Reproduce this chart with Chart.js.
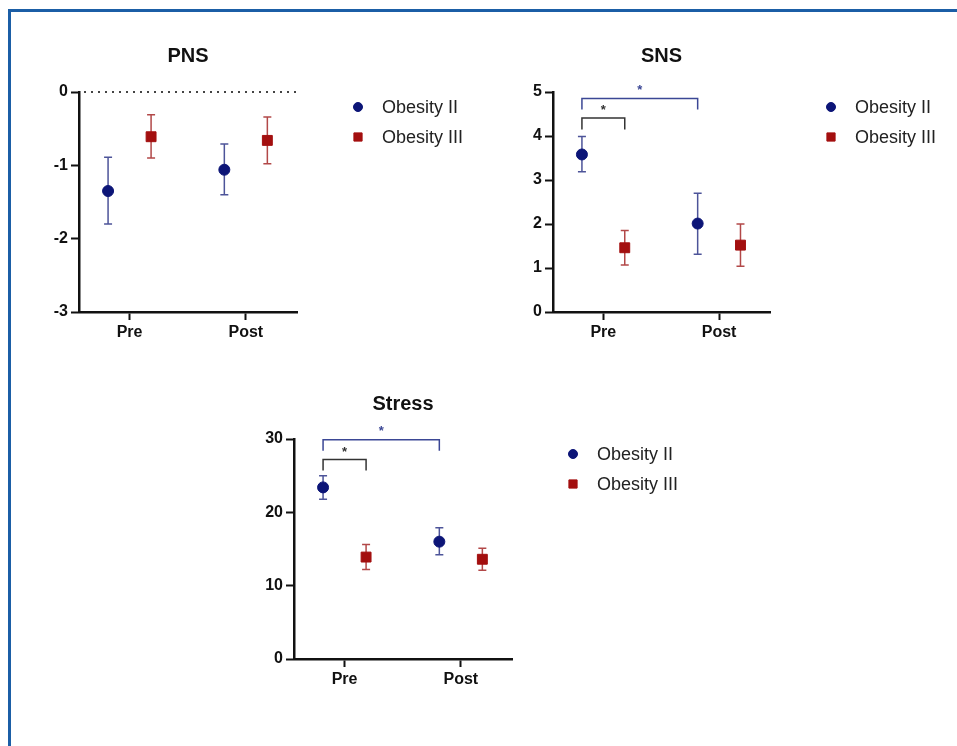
<!DOCTYPE html>
<html>
<head>
<meta charset="utf-8">
<script src="https://cdn.jsdelivr.net/npm/chart.js@4.4.1/dist/chart.umd.min.js"></script>
<style>
  html, body { margin: 0; padding: 0; background: #fff; overflow: hidden; }
  body { width: 957px; height: 746px; position: relative; }
  .frame { position: absolute; left: 8px; top: 9px; width: 960px; height: 760px; border: 3px solid #1b5ea6; box-sizing: border-box; }
  .panel { position: absolute; }
</style>
</head>
<body>
<div class="frame"></div>
<div class="panel" style="left:0;top:20px;width:478px;height:340px"><canvas id="c-pns"></canvas></div>
<div class="panel" style="left:478px;top:20px;width:479px;height:340px"><canvas id="c-sns"></canvas></div>
<div class="panel" style="left:220px;top:368px;width:480px;height:340px"><canvas id="c-stress"></canvas></div>
<script>
/* values: means and error-bar ends per time point */
var categories = ['Pre', 'Post'];
var groups = ['Obesity II', 'Obesity III'];

var pnsTicks = [-3, -2, -1, 0];
var pnsOb2Mean = [-1.35, -1.06];
var pnsOb2Low  = [-1.80, -1.40];
var pnsOb2High = [-0.89, -0.71];
var pnsOb3Mean = [-0.61, -0.66];
var pnsOb3Low  = [-0.90, -0.98];
var pnsOb3High = [-0.31, -0.34];

var snsTicks = [0, 1, 2, 3, 4, 5];
var snsOb2Mean = [3.58, 2.01];
var snsOb2Low  = [3.19, 1.31];
var snsOb2High = [3.99, 2.70];
var snsOb3Mean = [1.46, 1.52];
var snsOb3Low  = [1.07, 1.04];
var snsOb3High = [1.85, 2.00];

var stressTicks = [0, 10, 20, 30];
var stressOb2Mean = [23.4, 16.0];
var stressOb2Low  = [21.8, 14.2];
var stressOb2High = [25.0, 17.9];
var stressOb3Mean = [13.9, 13.6];
var stressOb3Low  = [12.2, 12.1];
var stressOb3High = [15.6, 15.1];

/* significance brackets: [cat, group] -> [cat, group], bar level, leg end, star level */
var snsBrackets = [
  { from: [0, 0], to: [0, 1], bar: 4.41, leg: 4.15, star: 4.68, color: '#333' },
  { from: [0, 0], to: [1, 0], bar: 4.85, leg: 4.60, star: 5.13, color: '#3b4795' }
];
var stressBrackets = [
  { from: [0, 0], to: [0, 1], bar: 27.2, leg: 25.7, star: 28.8, color: '#333' },
  { from: [0, 0], to: [1, 0], bar: 29.9, leg: 28.4, star: 31.6, color: '#3b4795' }
];

var DODGE = 0.185;
var OB2_COLOR = '#0c1577';
var OB3_COLOR = '#a30f0f';
var OB2_BAR = '#4d5499';
var OB3_BAR = '#b24848';
var INK = '#111';

Chart.defaults.font.family = "'Liberation Sans', Arial, Helvetica, sans-serif";
Chart.defaults.color = INK;

function xOf(cat, grp) {
  return cat + 1 + (grp === 0 ? -DODGE : DODGE);
}

function points(grp, means) {
  return means.map(function (m, i) { return { x: xOf(i, grp), y: m }; });
}

/* error bars, zero line and brackets, all placed through the chart's scales */
var markup = {
  id: 'markup',
  beforeDatasetsDraw: function (chart, args, opts) {
    var ctx = chart.ctx, xs = chart.scales.x, ys = chart.scales.y;
    ctx.save();
    if (opts.zeroLine) {
      var zy = ys.getPixelForValue(0);
      ctx.strokeStyle = '#444';
      ctx.lineWidth = 2;
      ctx.setLineDash([2, 5]);
      ctx.beginPath();
      ctx.moveTo(chart.chartArea.left + 5, zy);
      ctx.lineTo(chart.chartArea.right, zy);
      ctx.stroke();
      ctx.setLineDash([]);
    }
    chart.data.datasets.forEach(function (ds) {
      ctx.strokeStyle = ds.barColor;
      ctx.lineWidth = 1.5;
      ds.data.forEach(function (p, i) {
        var px = xs.getPixelForValue(p.x);
        var top = ys.getPixelForValue(ds.high[i]);
        var bot = ys.getPixelForValue(ds.low[i]);
        ctx.beginPath();
        ctx.moveTo(px, top); ctx.lineTo(px, bot);
        ctx.moveTo(px - 4, top); ctx.lineTo(px + 4, top);
        ctx.moveTo(px - 4, bot); ctx.lineTo(px + 4, bot);
        ctx.stroke();
      });
    });
    (opts.brackets || []).forEach(function (b) {
      var x1 = xs.getPixelForValue(xOf(b.from[0], b.from[1]));
      var x2 = xs.getPixelForValue(xOf(b.to[0], b.to[1]));
      var yb = ys.getPixelForValue(b.bar);
      var yl = ys.getPixelForValue(b.leg);
      ctx.strokeStyle = b.color;
      ctx.lineWidth = 1.5;
      ctx.beginPath();
      ctx.moveTo(x1, yl); ctx.lineTo(x1, yb); ctx.lineTo(x2, yb); ctx.lineTo(x2, yl);
      ctx.stroke();
      ctx.fillStyle = b.color;
      ctx.font = "bold 13px 'Liberation Sans', Arial, sans-serif";
      ctx.textAlign = 'center';
      ctx.textBaseline = 'alphabetic';
      ctx.fillText('*', (x1 + x2) / 2, ys.getPixelForValue(b.star) + 8);
    });
    ctx.restore();
  }
};

/* legend to the right of the plot, markers + labels */
var sideLegend = {
  id: 'sideLegend',
  afterDraw: function (chart) {
    var ctx = chart.ctx, area = chart.chartArea;
    ctx.save();
    chart.data.datasets.forEach(function (ds, i) {
      var cy = area.top + 15 + i * 30;
      var mx = area.right + 61;
      ctx.fillStyle = ds.backgroundColor;
      ctx.strokeStyle = ds.backgroundColor;
      ctx.lineWidth = 1;
      Chart.helpers.drawPoint(ctx, { pointStyle: ds.pointStyle, radius: ds.legendRadius, borderWidth: 1 }, mx, cy);
      ctx.fillStyle = '#222';
      ctx.font = "18px 'Liberation Sans', Arial, sans-serif";
      ctx.textAlign = 'left';
      ctx.textBaseline = 'middle';
      ctx.fillText(ds.label, area.right + 85, cy + 1);
    });
    ctx.restore();
  }
};

function axisGrid() {
  return { drawOnChartArea: false, drawTicks: true, tickLength: 8, tickWidth: 2, tickColor: INK };
}

function makeChart(id, title, ticks, o2, o3, pad, titlePad, extras) {
  return new Chart(document.getElementById(id), {
    type: 'scatter',
    data: {
      datasets: [
        { label: groups[0], data: points(0, o2.mean), low: o2.low, high: o2.high,
          pointStyle: 'circle', pointRadius: 5.5, legendRadius: 4.5,
          backgroundColor: OB2_COLOR, borderColor: OB2_COLOR, borderWidth: 1, barColor: OB2_BAR },
        { label: groups[1], data: points(1, o3.mean), low: o3.low, high: o3.high,
          pointStyle: 'rect', pointRadius: 7, legendRadius: 5.8,
          backgroundColor: OB3_COLOR, borderColor: OB3_COLOR, borderWidth: 1, barColor: OB3_BAR }
      ]
    },
    options: {
      responsive: true,
      maintainAspectRatio: false,
      animation: false,
      events: [],
      layout: { padding: pad },
      plugins: {
        legend: { display: false },
        tooltip: { enabled: false },
        title: {
          display: true, text: title, fullSize: false, color: INK,
          font: { size: 20, weight: 'bold' }, padding: titlePad
        },
        markup: extras
      },
      scales: {
        x: {
          type: 'linear', min: 0.565, max: 2.44,
          afterBuildTicks: function (s) { s.ticks = categories.map(function (c, i) { return { value: i + 1 }; }); },
          afterFit: function (s) { s.height = 40; },
          ticks: {
            color: INK, padding: 3, font: { size: 16, weight: 'bold' },
            callback: function (v) { return categories[Math.round(v) - 1]; }
          },
          grid: axisGrid(),
          border: { color: INK, width: 2.5 }
        },
        y: {
          min: ticks[0], max: ticks[ticks.length - 1],
          afterBuildTicks: function (s) { s.ticks = ticks.map(function (v) { return { value: v }; }); },
          afterFit: function (s) { s.width = 50; },
          ticks: { color: INK, padding: 3, font: { size: 16, weight: 'bold' } },
          grid: axisGrid(),
          border: { color: INK, width: 2.5 }
        }
      }
    },
    plugins: [markup, sideLegend]
  });
}

makeChart('c-pns', 'PNS', pnsTicks,
  { mean: pnsOb2Mean, low: pnsOb2Low, high: pnsOb2High },
  { mean: pnsOb3Mean, low: pnsOb3Low, high: pnsOb3High },
  { left: 29, right: 181, top: 0, bottom: 8 }, { top: 24, bottom: 24 },
  { zeroLine: true, brackets: [] });

makeChart('c-sns', 'SNS', snsTicks,
  { mean: snsOb2Mean, low: snsOb2Low, high: snsOb2High },
  { mean: snsOb3Mean, low: snsOb3Low, high: snsOb3High },
  { left: 25, right: 187, top: 0, bottom: 8 }, { top: 24, bottom: 24 },
  { zeroLine: false, brackets: snsBrackets });

makeChart('c-stress', 'Stress', stressTicks,
  { mean: stressOb2Mean, low: stressOb2Low, high: stressOb2High },
  { mean: stressOb3Mean, low: stressOb3Low, high: stressOb3High },
  { left: 24, right: 188, top: 0, bottom: 9 }, { top: 24, bottom: 23 },
  { zeroLine: false, brackets: stressBrackets });
</script>
</body>
</html>
